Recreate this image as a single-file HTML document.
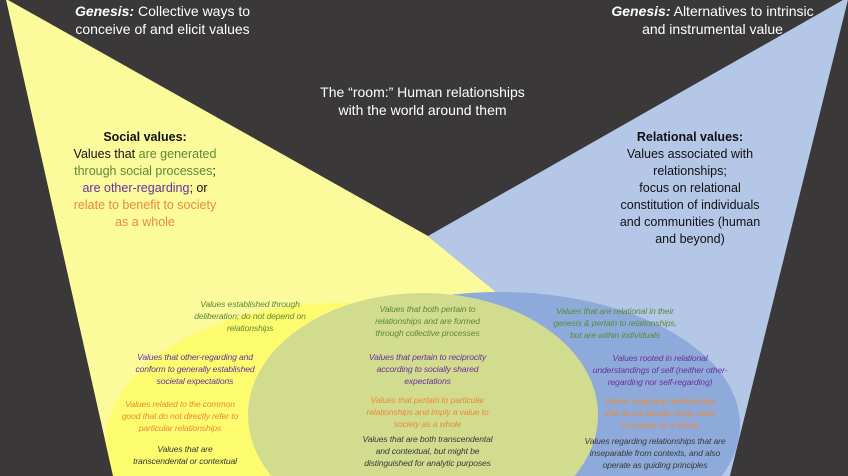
<!DOCTYPE html>
<html><head><meta charset="utf-8"><style>
html,body{margin:0;padding:0}
body{width:848px;height:476px;overflow:hidden;background:#3a3839;position:relative;font-family:"Liberation Sans",sans-serif}
svg{position:absolute;left:0;top:0}
.t{position:absolute;text-align:center;white-space:nowrap}
.h{color:#fff;font-size:14px;line-height:18px}
.m{color:#111;font-size:12.5px;line-height:17px}
.s{font-style:italic;font-size:8.6px;line-height:12px;letter-spacing:-0.15px}
.g{color:#5b8a3a}.p{color:#6a2f9a}.o{color:#e98a3c}.d{color:#3a3a3a}
</style></head><body>
<svg width="848" height="476" viewBox="0 0 848 476">
<polygon points="0,0 8,0 428,236 720,476 113,476 6,0" fill="#fbfb9b"/>
<polygon points="843,0 848,0 730,476 718,476 428,236" fill="#b4c7e7"/>
<ellipse cx="340" cy="445" rx="235" ry="142" fill="#fcfc6e"/>
<ellipse cx="500" cy="425" rx="240" ry="133" fill="#8eaadb"/>
<ellipse cx="423" cy="415" rx="175" ry="122" fill="#d2dc8f"/>
<polygon points="0,476 113,476 6,0 0,0" fill="#3a3839"/>
<polygon points="848,0 730,476 848,476" fill="#3a3839"/>
</svg>
<div class="t h" style="left:40px;top:2px;width:245px"><b><i>Genesis:</i></b> Collective ways to<br>conceive of and elicit values</div>
<div class="t h" style="left:590px;top:2px;width:245px"><b><i>Genesis:</i></b> Alternatives to intrinsic<br>and instrumental value</div>
<div class="t h" style="left:290px;top:83px;width:265px">The “room:” Human relationships<br>with the world around them</div>
<div class="t m" style="left:50px;top:129px;width:190px"><b>Social values:</b><br>Values that <span class="g">are generated</span><br><span class="g">through social processes</span>;<br><span class="p">are other-regarding</span>; or<br><span class="o">relate to benefit to society</span><br><span class="o">as a whole</span></div>
<div class="t m" style="left:590px;top:129px;width:200px"><b>Relational values:</b><br>Values associated with<br>relationships;<br>focus on relational<br>constitution of individuals<br>and communities (human<br>and beyond)</div>

<div class="t s g" style="left:180px;top:298px;width:140px">Values established through<br>deliberation; do not depend on<br>relationships</div>
<div class="t s p" style="left:120px;top:351px;width:150px">Values that other-regarding and<br>conform to generally established<br>societal expectations</div>
<div class="t s o" style="left:110px;top:398px;width:140px">Values related to the common<br>good that do not directly refer to<br>particular relationships</div>
<div class="t s d" style="left:115px;top:443px;width:140px">Values that are<br>transcendental or contextual</div>

<div class="t s g" style="left:350px;top:303px;width:155px">Values that both pertain to<br>relationships and are formed<br>through collective processes</div>
<div class="t s p" style="left:350px;top:351px;width:155px">Values that pertain to reciprocity<br>according to socially shared<br>expectations</div>
<div class="t s o" style="left:350px;top:394px;width:155px">Values that pertain to particular<br>relationships and imply a value to<br>society as a whole</div>
<div class="t s d" style="left:345px;top:433px;width:165px">Values that are both transcendental<br>and contextual, but might be<br>distinguished for analytic purposes</div>

<div class="t s g" style="left:540px;top:305px;width:150px">Values that are relational in their<br>genesis &amp; pertain to relationships,<br>but are within individuals</div>
<div class="t s p" style="left:585px;top:352px;width:150px">Values rooted in relational<br>understandings of self (neither other-<br>regarding nor self-regarding)</div>
<div class="t s o" style="left:590px;top:395px;width:140px">Values regarding relationships<br>that do not directly imply value<br>to society as a whole</div>
<div class="t s d" style="left:575px;top:435px;width:160px">Values regarding relationships that are<br>inseparable from contexts, and also<br>operate as guiding principles</div>
</body></html>
